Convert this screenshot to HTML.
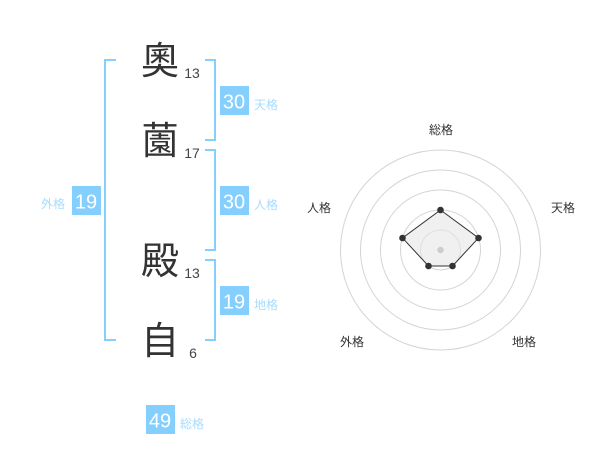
<!DOCTYPE html>
<html><head><meta charset="utf-8"><style>
html,body{margin:0;padding:0;background:#fff}
body{width:600px;height:470px;position:relative;overflow:hidden;font-family:"Liberation Sans","Noto Sans CJK JP",sans-serif}
svg{position:absolute;left:0;top:0}
.k{font-size:38px;fill:#333;text-anchor:middle;font-family:"Noto Sans CJK JP",sans-serif;font-weight:400}
.n{font-size:14px;fill:#444;text-anchor:middle}
.b{font-size:20px;fill:#fff;text-anchor:middle}
.l{font-size:12px;fill:#a6dcff;font-family:"Liberation Sans","Noto Sans CJK JP",sans-serif}
.r{font-size:12px;fill:#333;text-anchor:middle;font-family:"Liberation Sans","Noto Sans CJK JP",sans-serif}
</style></head><body>
<svg width="600" height="470" viewBox="0 0 600 470">
<g fill="none" stroke="#85cfff" stroke-width="2">
<path d="M116 60H105V340H116"/>
<path d="M205 60H215V140H205"/>
<path d="M205 150H215V250H205"/>
<path d="M205 260H215V340H205"/>
</g>
<text class="k" x="160" y="74">奧</text>
<text class="k" x="160" y="154">薗</text>
<text class="k" x="160" y="274">殿</text>
<text class="k" x="160" y="354">自</text>
<text class="n" x="192" y="78">13</text>
<text class="n" x="192" y="158">17</text>
<text class="n" x="192" y="278">13</text>
<text class="n" x="193" y="358">6</text>
<g fill="#85cfff">
<rect x="220" y="86" width="29" height="29"/>
<rect x="220" y="186" width="29" height="29"/>
<rect x="220" y="286" width="29" height="29"/>
<rect x="72" y="186" width="29" height="29"/>
<rect x="146" y="405" width="29" height="29"/>
</g>
<text class="b" x="234" y="108.500">30</text>
<text class="b" x="234" y="208.500">30</text>
<text class="b" x="234" y="308.500">19</text>
<text class="b" x="86" y="208.500">19</text>
<text class="b" x="160" y="427.500">49</text>
<text class="l" x="254" y="109">天格</text>
<text class="l" x="254" y="209">人格</text>
<text class="l" x="254" y="309">地格</text>
<text class="l" x="41" y="208">外格</text>
<text class="l" x="180" y="428">総格</text>
<g fill="none" stroke="#d4d4d4" stroke-width="1">
<circle cx="440.5" cy="250" r="20"/>
<circle cx="440.500" cy="250" r="40"/>
<circle cx="440.500" cy="250" r="60"/>
<circle cx="440.500" cy="250" r="80"/>
<circle cx="440.500" cy="250" r="100"/>
</g>
<polygon points="440.500,210 478.500,238 452.500,266 428.500,266 402.500,238" fill="#e6e6e6" fill-opacity=".6" stroke="#333" stroke-width="1"/>
<circle cx="440.500" cy="250" r="3.200" fill="#ccc"/>
<g fill="#333">
<circle cx="440.500" cy="210" r="3.300"/>
<circle cx="478.500" cy="238" r="3.300"/>
<circle cx="452.500" cy="266" r="3.300"/>
<circle cx="428.500" cy="266" r="3.300"/>
<circle cx="402.500" cy="238" r="3.300"/>
</g>
<text class="r" x="441" y="134">総格</text>
<text class="r" x="563" y="212">天格</text>
<text class="r" x="319" y="212">人格</text>
<text class="r" x="524" y="346">地格</text>
<text class="r" x="352" y="346">外格</text>
</svg>
</body></html>
